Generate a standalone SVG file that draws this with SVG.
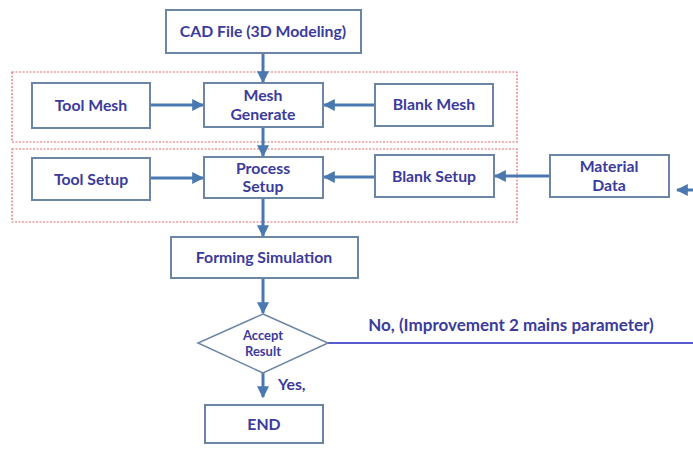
<svg xmlns="http://www.w3.org/2000/svg" width="693" height="450" viewBox="0 0 693 450">
<defs>
<marker id="ah" viewBox="0 0 10 10" refX="9" refY="5" markerWidth="4" markerHeight="4" orient="auto-start-reverse">
<path d="M0,0 L10,5 L0,10 z" fill="#4a78b0"/>
</marker>
<style>
.box{fill:#fff;stroke:#6a86a4;stroke-width:2}
.grp{fill:none;stroke:#e06a6a;stroke-width:1.2;stroke-dasharray:2,1.5}
.t{font-family:Lato,"Open Sans",sans-serif;font-weight:bold;font-size:15.8px;fill:#3b3b9c;text-anchor:middle}
.s{font-size:13px}
.c{stroke:#4a78b0;stroke-width:3;fill:none}
</style>
</defs>
<rect width="693" height="450" fill="#fff"/>
<g id="groups">
<rect class="grp" x="12" y="72" width="505" height="70"/>
<rect class="grp" x="12" y="149" width="505" height="73"/>
</g>
<g id="connectors">
<line class="c" x1="263" y1="53" x2="263" y2="82" marker-end="url(#ah)"/>
<line class="c" x1="263" y1="127" x2="263" y2="156" marker-end="url(#ah)"/>
<line class="c" x1="263" y1="198" x2="263" y2="236" marker-end="url(#ah)"/>
<line class="c" x1="263" y1="278" x2="263" y2="313" marker-end="url(#ah)"/>
<line class="c" x1="263" y1="373" x2="263" y2="397" marker-end="url(#ah)"/>
<line class="c" x1="150" y1="105" x2="203" y2="105" marker-end="url(#ah)"/>
<line class="c" x1="375" y1="105" x2="324" y2="105" marker-end="url(#ah)"/>
<line class="c" x1="150" y1="178" x2="203" y2="178" marker-end="url(#ah)"/>
<line class="c" x1="375" y1="177" x2="324" y2="177" marker-end="url(#ah)"/>
<line class="c" x1="550" y1="176" x2="495" y2="176" marker-end="url(#ah)"/>
<line class="c" x1="693" y1="190" x2="677" y2="190" marker-end="url(#ah)"/>
<line x1="328" y1="343" x2="693" y2="343" stroke="#5a5ad0" stroke-width="2"/>
<text class="t" x="511" y="331" style="font-size:17px">No, (Improvement 2 mains parameter)</text>
<text class="t" x="278" y="390" style="text-anchor:start">Yes,</text>
</g>
<g id="cad"><rect class="box" x="166" y="10" width="195" height="43"/><text class="t" x="263" y="37">CAD File (3D Modeling)</text></g>
<g id="toolmesh"><rect class="box" x="32" y="83" width="118" height="45"/><text class="t" x="91" y="111">Tool Mesh</text></g>
<g id="meshgen"><rect class="box" x="204" y="83" width="119" height="44"/><text class="t" x="263" y="101">Mesh</text><text class="t" x="263" y="120">Generate</text></g>
<g id="blankmesh"><rect class="box" x="375" y="84" width="118" height="42"/><text class="t" x="434" y="110">Blank Mesh</text></g>
<g id="toolsetup"><rect class="box" x="32" y="158" width="118" height="42"/><text class="t" x="91" y="185">Tool Setup</text></g>
<g id="procsetup"><rect class="box" x="204" y="157" width="119" height="41"/><text class="t" x="263" y="174">Process</text><text class="t" x="263" y="192">Setup</text></g>
<g id="blanksetup"><rect class="box" x="375" y="155" width="119" height="42"/><text class="t" x="434" y="182">Blank Setup</text></g>
<g id="material"><rect class="box" x="550" y="155" width="119" height="42"/><text class="t" x="609" y="172">Material</text><text class="t" x="609" y="191">Data</text></g>
<g id="forming"><rect class="box" x="171" y="237" width="187" height="41"/><text class="t" x="264" y="263">Forming Simulation</text></g>
<g id="accept"><polygon points="263,314 328,343 263,373 198,343" fill="#fff" stroke="#6a86a4" stroke-width="1.5"/><text class="t s" x="263" y="340">Accept</text><text class="t s" x="263" y="356">Result</text></g>
<g id="end"><rect class="box" x="205" y="405" width="118" height="38"/><text class="t" x="264" y="430">END</text></g>
</svg>
